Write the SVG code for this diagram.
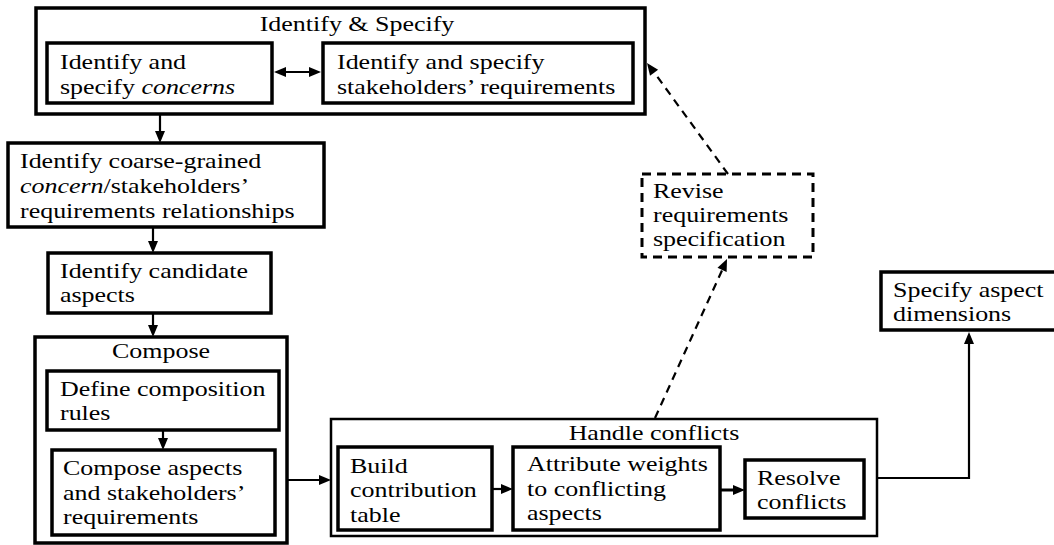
<svg xmlns="http://www.w3.org/2000/svg" xmlns:xlink="http://www.w3.org/1999/xlink" width="1054" height="545" viewBox="0 0 1054 545">
  <style>
    .box { fill: #fff; stroke: #000; stroke-width: 3.5; }
    .thin { stroke-width: 2.5; }
    .dash { fill: #fff; stroke: #000; stroke-width: 3; stroke-dasharray: 9 6; }
    .ttl { text-anchor: middle; }
    .conn { fill: none; stroke: #000; stroke-width: 2.2; }
    .dconn { fill: none; stroke: #000; stroke-width: 2.2; stroke-dasharray: 8 6; }
  </style>
  <defs>
    <!-- arrowhead pointing along +x, tip at the origin -->
    <path id="ah" d="M0,0 L-12,-5 L-12,5 Z" fill="#000"/>
  </defs>
  <rect width="1054" height="545" fill="#fff"/>

  <g id="identify-specify">
    <rect class="box" x="36" y="8" width="609" height="106"/>
    <text class="ttl" style="font-family:'Times New Roman','Liberation Serif',serif;font-size:22px" transform="matrix(1.18 0 0 1 357 31)">Identify &amp; Specify</text>
  </g>
  <g id="specify-concerns">
    <rect class="box" x="47" y="43" width="225" height="60"/>
    <text style="font-family:'Times New Roman','Liberation Serif',serif;font-size:22px" transform="matrix(1.18 0 0 1 60 69)">Identify and</text>
    <text style="font-family:'Times New Roman','Liberation Serif',serif;font-size:22px" transform="matrix(1.18 0 0 1 60 94)">specify <tspan font-style="italic">concerns</tspan></text>
  </g>
  <g id="specify-requirements">
    <rect class="box" x="323" y="43" width="310" height="60"/>
    <text style="font-family:'Times New Roman','Liberation Serif',serif;font-size:22px" transform="matrix(1.18 0 0 1 337 69)">Identify and specify</text>
    <text style="font-family:'Times New Roman','Liberation Serif',serif;font-size:22px" transform="matrix(1.18 0 0 1 337 94)">stakeholders’ requirements</text>
  </g>
  <g id="coarse-relationships">
    <rect class="box" x="8" y="143" width="316" height="84"/>
    <text style="font-family:'Times New Roman','Liberation Serif',serif;font-size:22px" transform="matrix(1.18 0 0 1 20 168)">Identify coarse-grained</text>
    <text style="font-family:'Times New Roman','Liberation Serif',serif;font-size:22px" transform="matrix(1.18 0 0 1 20 193)"><tspan font-style="italic">concern</tspan>/stakeholders’</text>
    <text style="font-family:'Times New Roman','Liberation Serif',serif;font-size:22px" transform="matrix(1.18 0 0 1 20 218)">requirements relationships</text>
  </g>
  <g id="candidate-aspects">
    <rect class="box" x="48" y="253" width="223" height="60"/>
    <text style="font-family:'Times New Roman','Liberation Serif',serif;font-size:22px" transform="matrix(1.18 0 0 1 60 278)">Identify candidate</text>
    <text style="font-family:'Times New Roman','Liberation Serif',serif;font-size:22px" transform="matrix(1.18 0 0 1 60 302)">aspects</text>
  </g>
  <g id="compose">
    <rect class="box" x="35" y="337" width="252" height="206"/>
    <text class="ttl" style="font-family:'Times New Roman','Liberation Serif',serif;font-size:22px" transform="matrix(1.18 0 0 1 161 358)">Compose</text>
  </g>
  <g id="composition-rules">
    <rect class="box" x="47" y="371" width="232" height="59"/>
    <text style="font-family:'Times New Roman','Liberation Serif',serif;font-size:22px" transform="matrix(1.18 0 0 1 60 396)">Define composition</text>
    <text style="font-family:'Times New Roman','Liberation Serif',serif;font-size:22px" transform="matrix(1.18 0 0 1 60 420)">rules</text>
  </g>
  <g id="compose-aspects">
    <rect class="box" x="52" y="450" width="223" height="85"/>
    <text style="font-family:'Times New Roman','Liberation Serif',serif;font-size:22px" transform="matrix(1.18 0 0 1 63 475)">Compose aspects</text>
    <text style="font-family:'Times New Roman','Liberation Serif',serif;font-size:22px" transform="matrix(1.18 0 0 1 63 500)">and stakeholders’</text>
    <text style="font-family:'Times New Roman','Liberation Serif',serif;font-size:22px" transform="matrix(1.18 0 0 1 63 524)">requirements</text>
  </g>
  <g id="handle-conflicts">
    <rect class="box thin" x="331" y="419" width="546" height="117"/>
    <text class="ttl" style="font-family:'Times New Roman','Liberation Serif',serif;font-size:22px" transform="matrix(1.18 0 0 1 654 440)">Handle conflicts</text>
  </g>
  <g id="contribution-table">
    <rect class="box" x="338" y="447" width="154" height="83"/>
    <text style="font-family:'Times New Roman','Liberation Serif',serif;font-size:22px" transform="matrix(1.18 0 0 1 350 473)">Build</text>
    <text style="font-family:'Times New Roman','Liberation Serif',serif;font-size:22px" transform="matrix(1.18 0 0 1 350 497)">contribution</text>
    <text style="font-family:'Times New Roman','Liberation Serif',serif;font-size:22px" transform="matrix(1.18 0 0 1 350 522)">table</text>
  </g>
  <g id="attribute-weights">
    <rect class="box" x="513" y="447" width="207" height="83"/>
    <text style="font-family:'Times New Roman','Liberation Serif',serif;font-size:22px" transform="matrix(1.18 0 0 1 527 471)">Attribute weights</text>
    <text style="font-family:'Times New Roman','Liberation Serif',serif;font-size:22px" transform="matrix(1.18 0 0 1 527 496)">to conflicting</text>
    <text style="font-family:'Times New Roman','Liberation Serif',serif;font-size:22px" transform="matrix(1.18 0 0 1 527 520)">aspects</text>
  </g>
  <g id="resolve-conflicts">
    <rect class="box" x="745" y="460" width="119" height="58"/>
    <text style="font-family:'Times New Roman','Liberation Serif',serif;font-size:22px" transform="matrix(1.18 0 0 1 757 485)">Resolve</text>
    <text style="font-family:'Times New Roman','Liberation Serif',serif;font-size:22px" transform="matrix(1.18 0 0 1 757 509)">conflicts</text>
  </g>
  <g id="aspect-dimensions">
    <rect class="box" x="881" y="272" width="176" height="58"/>
    <text style="font-family:'Times New Roman','Liberation Serif',serif;font-size:22px" transform="matrix(1.18 0 0 1 893 297)">Specify aspect</text>
    <text style="font-family:'Times New Roman','Liberation Serif',serif;font-size:22px" transform="matrix(1.18 0 0 1 893 321)">dimensions</text>
  </g>
  <g id="revise-specification">
    <rect class="dash" x="642" y="174" width="171" height="83"/>
    <text style="font-family:'Times New Roman','Liberation Serif',serif;font-size:22px" transform="matrix(1.18 0 0 1 653 198)">Revise</text>
    <text style="font-family:'Times New Roman','Liberation Serif',serif;font-size:22px" transform="matrix(1.18 0 0 1 653 222)">requirements</text>
    <text style="font-family:'Times New Roman','Liberation Serif',serif;font-size:22px" transform="matrix(1.18 0 0 1 653 246)">specification</text>
  </g>

  <!-- connectors, drawn over the container boxes -->
  <g id="connectors">
    <line class="conn" x1="280" y1="72" x2="315" y2="72"/>
    <line class="conn" x1="160" y1="114" x2="160" y2="137"/>
    <line class="conn" x1="153" y1="227" x2="153" y2="247"/>
    <line class="conn" x1="153" y1="313" x2="153" y2="331"/>
    <line class="conn" x1="163" y1="430" x2="163" y2="444"/>
    <line class="conn" x1="287" y1="480" x2="325" y2="480"/>
    <line class="conn" x1="492" y1="489" x2="507" y2="489"/>
    <line class="conn" x1="720" y1="490" x2="739" y2="490" style="stroke-width:3"/>
    <polyline class="conn" points="877,478 969,478 969,338"/>
    <line class="dconn" x1="655" y1="418" x2="724" y2="266"/>
    <line class="dconn" x1="728" y1="174" x2="651" y2="68"/>
    <use xlink:href="#ah" transform="translate(274,72) rotate(180)"/>
    <use xlink:href="#ah" transform="translate(321,72)"/>
    <use xlink:href="#ah" transform="translate(160,143) rotate(90)"/>
    <use xlink:href="#ah" transform="translate(153,253) rotate(90)"/>
    <use xlink:href="#ah" transform="translate(153,337) rotate(90)"/>
    <use xlink:href="#ah" transform="translate(163,450) rotate(90)"/>
    <use xlink:href="#ah" transform="translate(331,480)"/>
    <use xlink:href="#ah" transform="translate(513,489)"/>
    <use xlink:href="#ah" transform="translate(745,490)"/>
    <use xlink:href="#ah" transform="translate(969,332) rotate(-90)"/>
    <use xlink:href="#ah" transform="translate(727,259) rotate(-65.6)"/>
    <use xlink:href="#ah" transform="translate(647,63) rotate(-126.1)"/>
  </g>
</svg>
